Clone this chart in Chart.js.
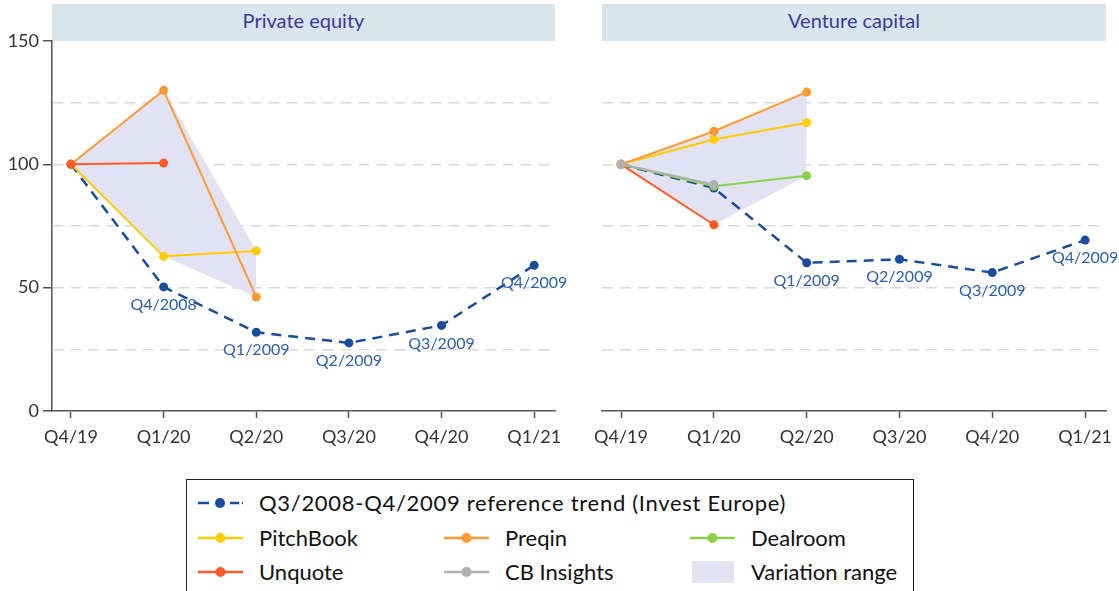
<!DOCTYPE html>
<html><head><meta charset="utf-8">
<script src="https://cdn.jsdelivr.net/npm/chart.js@4/dist/chart.umd.min.js"></script>
<style>
html,body{margin:0;padding:0;width:1119px;height:591px;overflow:hidden;background:#fff;font-family:Lato,"Open Sans",sans-serif;}
.strip{position:absolute;top:4px;height:37px;background:#d9e5ec;color:#3a3a9c;font-size:20px;line-height:33px;text-align:center;}
.cw{position:absolute;top:30px;height:430px;}
#legend{position:absolute;left:186px;top:479px;width:728px;height:130px;border:1.5px solid #222;box-sizing:border-box;}
.li{position:absolute;display:flex;align-items:center;font-size:22px;color:#111;height:30px;white-space:nowrap;}
.li svg{margin-right:16px;flex:none;}
</style></head>
<body>
<div class="strip" style="left:52px;width:503px">Private equity</div>
<div class="strip" style="left:602px;width:504px">Venture capital</div>
<div class="cw" style="left:560px;width:559px"><canvas id="vc"></canvas></div>
<div class="cw" style="left:0;width:580px"><canvas id="pe"></canvas></div>
<div id="legend"></div>
<script>
// ---- data ----
const quarters = ['Q4/19','Q1/20','Q2/20','Q3/20','Q4/20','Q1/21'];
const yTicks = [0, 25, 50, 75, 100, 125, 150];
const yLabelled = [0, 50, 100, 150];

const peReference = [100, 50.3, 31.9, 27.6, 34.7, 59.1];
const peReferenceLabels = ['', 'Q4/2008', 'Q1/2009', 'Q2/2009', 'Q3/2009', 'Q4/2009'];
const pePitchBook = [100, 62.7, 64.9, null, null, null];
const pePreqin = [100, 130, 46.2, null, null, null];
const peUnquote = [100, 100.5, null, null, null, null];

const vcReference = [100, 90.4, 60.1, 61.5, 56.1, 69.3];
const vcReferenceLabels = ['', '', 'Q1/2009', 'Q2/2009', 'Q3/2009', 'Q4/2009'];
const vcPitchBook = [100, 110.1, 116.9, null, null, null];
const vcPreqin = [100, 113.4, 129.3, null, null, null];
const vcDealroom = [100, 91.1, 95.4, null, null, null];
const vcUnquote = [100, 75.5, null, null, null, null];
const vcCBInsights = [100, 91.8, null, null, null, null];

// ---- styles ----
const C = {
  ref: '#1a4c9c', refLabel: '#2e5eae',
  pitch: '#ffcc00', preqin: '#ff9933', dealroom: '#8cd048',
  unquote: '#ff5a2a', cb: '#b0b0b0', range: '#e2e2f2'
};
const FONT = 'Lato, "Open Sans", sans-serif';

function pts(arr){ return arr.map((v,i)=> v==null ? null : {x:i, y:v}).filter(p=>p); }
function rangeOf(series, fn){
  return quarters.map((_,i)=>{
    const vals = series.map(s=>s[i]).filter(v=>v!=null);
    return vals.length ? fn(...vals) : null;
  });
}
function line(label, arr, color, order, extra){
  return Object.assign({
    label, data: pts(arr), borderColor: color, backgroundColor: color,
    borderWidth: 2, pointRadius: 4.5, pointHoverRadius: 4.5, pointBorderWidth: 0,
    tension: 0, fill: false, order
  }, extra||{});
}
function rangeSets(series){
  return [
    {label:'rangeMax', data: pts(rangeOf(series, Math.max)), borderWidth:0, pointRadius:0, fill:false, order:20, borderColor:'transparent'},
    {label:'rangeMin', data: pts(rangeOf(series, Math.min)), borderWidth:0, pointRadius:0, fill:'-1', backgroundColor:C.range, order:19, borderColor:'transparent'}
  ];
}

const refLabelPlugin = {
  id: 'refLabels',
  afterDatasetsDraw(chart, args, opts){
    const idx = chart.data.datasets.findIndex(d=>d.isRef);
    if (idx < 0) return;
    const meta = chart.getDatasetMeta(idx);
    const ctx = chart.ctx;
    ctx.save();
    ctx.font = '16px ' + FONT;
    ctx.fillStyle = C.refLabel;
    ctx.textAlign = 'center';
    ctx.textBaseline = 'middle';
    meta.data.forEach((el, i)=>{
      const t = opts.labels[i];
      if (t) ctx.fillText(t, el.x, el.y + 18);
    });
    ctx.restore();
  }
};

function makeChart(id, datasets, labels, showY, padRight){
  return new Chart(document.getElementById(id), {
    type: 'line',
    data: { datasets },
    plugins: [refLabelPlugin],
    options: {
      responsive: true, maintainAspectRatio: false, animation: false,
      layout: { padding: { top: 11, right: padRight, left: 0, bottom: 0 } },
      plugins: { legend: {display:false}, tooltip: {enabled:false}, refLabels: { labels } },
      scales: {
        x: {
          type: 'linear', min: -0.205, max: 5.225,
          afterBuildTicks: s => { s.ticks = quarters.map((_,i)=>({value:i})); },
          afterFit: s => { s.height = 49; s.paddingLeft = 0; s.paddingRight = 0; },
          ticks: { callback: v => quarters[v] ?? '', color:'#333', font:{size:18, family:FONT}, padding: 8, maxRotation:0, autoSkip:false },
          grid: { drawOnChartArea:false, drawTicks:true, tickLength:7, tickColor:'#555', tickWidth:1.5 },
          border: { display:true, color:'#555', width:1.5 }
        },
        y: {
          min: 0, max: 150,
          afterBuildTicks: s => { s.ticks = yTicks.map(v=>({value:v})); },
          afterFit: s => { s.width = showY ? 52 : 42; s.paddingTop = 0; s.paddingBottom = 0; },
          ticks: { display: showY, callback: v => yLabelled.includes(v) ? String(v) : '', color:'#333', font:{size:18, family:FONT}, padding: 4 },
          grid: {
            color: c => (c.tick && (c.tick.value===0 || c.tick.value===150)) ? 'rgba(0,0,0,0)' : '#d9d9d9',
            lineWidth: 1.5,
            drawTicks: showY, tickLength: 9, tickWidth: 1.5,
            tickColor: c => (c.tick && yLabelled.includes(c.tick.value)) ? '#555' : 'rgba(0,0,0,0)'
          },
          border: { display: showY, color:'#555', width:1.5, dash:[11,7] }
        }
      }
    }
  });
}

const refStyle = { borderDash:[10,7], borderWidth:2.5, isRef:true };

makeChart('pe', [
  ...rangeSets([pePitchBook, pePreqin, peUnquote]),
  line('Q3/2008-Q4/2009 reference trend (Invest Europe)', peReference, C.ref, 10, refStyle),
  line('PitchBook', pePitchBook, C.pitch, 5),
  line('Preqin', pePreqin, C.preqin, 4),
  line('Unquote', peUnquote, C.unquote, 2)
], peReferenceLabels, true, 25);

makeChart('vc', [
  ...rangeSets([vcPitchBook, vcPreqin, vcDealroom, vcUnquote, vcCBInsights]),
  line('Q3/2008-Q4/2009 reference trend (Invest Europe)', vcReference, C.ref, 10, refStyle),
  line('Unquote', vcUnquote, C.unquote, 6),
  line('Dealroom', vcDealroom, C.dealroom, 5),
  line('PitchBook', vcPitchBook, C.pitch, 4),
  line('Preqin', vcPreqin, C.preqin, 3),
  line('CB Insights', vcCBInsights, C.cb, 1)
], vcReferenceLabels, false, 13);

// ---- legend ----
const legendItems = [
  {text:'Q3/2008-Q4/2009 reference trend (Invest Europe)', kind:'ref', color:C.ref, col:0, row:0},
  {text:'PitchBook', kind:'line', color:C.pitch, col:0, row:1},
  {text:'Preqin', kind:'line', color:C.preqin, col:1, row:1},
  {text:'Dealroom', kind:'line', color:C.dealroom, col:2, row:1},
  {text:'Unquote', kind:'line', color:C.unquote, col:0, row:2},
  {text:'CB Insights', kind:'line', color:C.cb, col:1, row:2},
  {text:'Variation range', kind:'rect', color:C.range, col:2, row:2}
];
const colX = [11, 257, 503];
const rowY = [24, 59, 93];
const lg = document.getElementById('legend');
legendItems.forEach(it=>{
  const d = document.createElement('div');
  d.className = 'li';
  d.style.left = colX[it.col] + 'px';
  d.style.top = (rowY[it.row] - 15 - 1.5) + 'px';
  if (it.row === 0) d.style.letterSpacing = '0.7px';
  let svg;
  if (it.kind==='ref') {
    svg = `<svg width="45" height="24"><line x1="0" y1="12" x2="11" y2="12" stroke="${it.color}" stroke-width="2.5"/><circle cx="22" cy="12" r="5" fill="${it.color}"/><line x1="32" y1="12" x2="41" y2="12" stroke="${it.color}" stroke-width="2.5"/><line x1="44" y1="12" x2="46" y2="12" stroke="${it.color}" stroke-width="2.5"/></svg>`;
  } else if (it.kind==='line') {
    svg = `<svg width="45" height="24"><line x1="0" y1="12" x2="45" y2="12" stroke="${it.color}" stroke-width="2.5"/><circle cx="22.5" cy="12" r="5" fill="${it.color}"/></svg>`;
  } else {
    svg = `<svg width="45" height="24"><rect x="2" y="1" width="42" height="22" fill="${it.color}"/></svg>`;
  }
  d.innerHTML = svg + '<span>' + it.text + '</span>';
  lg.appendChild(d);
});
</script>
</body></html>
